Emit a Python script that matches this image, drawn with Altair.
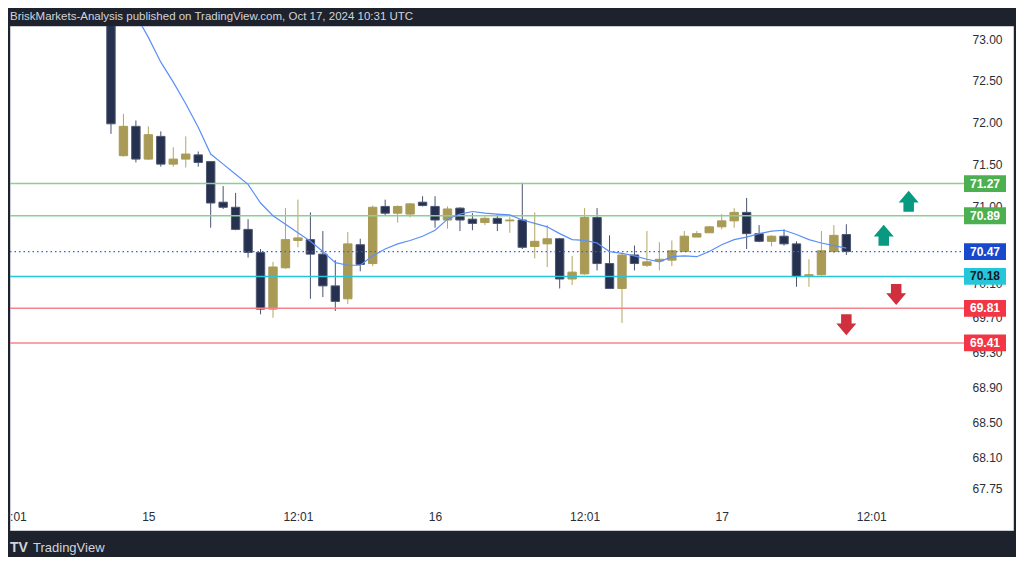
import altair as alt
import pandas as pd

# ---------------- data ----------------
opens = [73.50, 71.60, 71.95, 71.56, 71.83, 71.50, 71.56, 71.61, 71.53, 71.05,
         70.99, 70.73, 70.46, 69.80, 70.28, 70.60, 70.61, 70.44, 70.07, 69.92,
         70.55, 70.33, 71.00, 70.92, 70.91, 71.05, 71.00, 70.84, 70.98, 70.85,
         70.81, 70.86, 70.83, 70.84, 70.53, 70.56, 70.62, 70.15, 70.21, 70.87,
         70.33, 70.04, 70.43, 70.31, 70.36, 70.37, 70.47, 70.64, 70.69, 70.76,
         70.83, 70.93, 70.68, 70.59, 70.65, 70.56, 70.19, 70.20, 70.47, 70.67]
highs = [73.60, 72.10, 72.02, 71.95, 71.89, 71.70, 71.83, 71.65, 71.53, 71.24,
         71.16, 70.85, 70.50, 70.35, 70.98, 71.08, 70.93, 70.71, 70.37, 70.70,
         70.62, 71.01, 71.08, 71.01, 71.04, 71.12, 71.12, 71.00, 70.99, 70.92,
         70.88, 70.91, 70.88, 71.28, 70.93, 70.78, 70.63, 70.42, 70.98, 70.98,
         70.66, 70.45, 70.54, 70.71, 70.58, 70.60, 70.71, 70.71, 70.77, 70.91,
         70.98, 71.10, 70.78, 70.66, 70.73, 70.59, 70.38, 70.71, 70.78, 70.79]
lows = [71.86, 71.59, 71.52, 71.55, 71.47, 71.47, 71.46, 71.47, 70.75, 70.97,
        70.72, 70.40, 69.74, 69.70, 70.27, 70.52, 69.92, 69.94, 69.78, 69.86,
        70.24, 70.30, 70.89, 70.81, 70.87, 71.00, 70.75, 70.74, 70.71, 70.72,
        70.78, 70.71, 70.69, 70.50, 70.39, 70.29, 70.04, 70.08, 70.20, 70.25,
        70.04, 69.64, 70.25, 70.29, 70.25, 70.30, 70.47, 70.64, 70.69, 70.73,
        70.75, 70.50, 70.58, 70.53, 70.54, 70.06, 70.06, 70.19, 70.45, 70.43]
closes = [71.98, 71.95, 71.56, 71.85, 71.50, 71.56, 71.62, 71.52, 71.04, 70.99,
          70.73, 70.46, 69.80, 70.29, 70.61, 70.63, 70.44, 70.07, 69.89, 70.56,
          70.32, 70.99, 70.92, 71.00, 71.03, 71.01, 70.84, 70.97, 70.84, 70.80,
          70.86, 70.80, 70.84, 70.52, 70.59, 70.62, 70.15, 70.23, 70.87, 70.33,
          70.04, 70.43, 70.33, 70.35, 70.38, 70.48, 70.65, 70.68, 70.76, 70.83,
          70.93, 70.68, 70.59, 70.65, 70.56, 70.18, 70.20, 70.48, 70.66, 70.47]
ma_values = [73.85, 73.57, 73.29, 73.02, 72.72, 72.48, 72.22, 71.94, 71.62, 71.50,
             71.38, 71.26, 71.04, 70.89, 70.79, 70.69, 70.59, 70.47, 70.34, 70.31,
             70.31, 70.42, 70.50, 70.56, 70.60, 70.65, 70.72, 70.85, 70.91, 70.94,
             70.92, 70.91, 70.90, 70.84, 70.80, 70.76, 70.68, 70.61, 70.60, 70.57,
             70.47, 70.45, 70.42, 70.38, 70.35, 70.41, 70.42, 70.41, 70.47, 70.55,
             70.61, 70.64, 70.68, 70.71, 70.72, 70.67, 70.61, 70.57, 70.54, 70.51]

level_prices = [71.27, 70.89, 70.18, 69.81, 69.41]
level_labels = ["71.27", "70.89", "70.18", "69.81", "69.41"]
level_kinds = ["resistance", "resistance", "pivot", "support", "support"]

last_price = [70.47]
last_label = ["70.47"]

y_ticks = [73.00, 72.50, 72.00, 71.50, 71.00, 70.50, 70.10, 69.70, 69.30,
           68.90, 68.50, 68.10, 67.75]
x_tick_pos = [-8, 3, 15, 26, 38, 49, 61]
x_tick_labels = ["12:01", "15", "12:01", "16", "12:01", "17", "12:01"]

arrow_idx = [64, 62, 63, 59]
arrow_price = [71.06, 70.66, 69.97, 69.62]
arrow_dir = ["up", "up", "down", "down"]

title_text = "BriskMarkets-Analysis published on TradingView.com, Oct 17, 2024 10:31 UTC"

# ---------------- tables ----------------
candles = pd.DataFrame({"i": list(range(len(opens))), "open": opens, "high": highs,
                        "low": lows, "close": closes})
ma = pd.DataFrame({"i": list(range(len(ma_values))), "ma": ma_values})
levels = pd.DataFrame({"price": level_prices, "label": level_labels, "kind": level_kinds})
last = pd.DataFrame({"price": last_price, "label": last_label, "kind": ["last"]})
boxes = pd.concat([levels, last], ignore_index=True)
arrows = pd.DataFrame({"i": arrow_idx, "price": arrow_price, "dir": arrow_dir})

# ---------------- styling ----------------
FONT = "Liberation Sans"
W, H = 1003, 504
BULL, BEAR = "#a99b55", "#263150"
BULL_WICK, BEAR_WICK = "#b3a65f", "#4a5470"

kind_dom = ["resistance", "pivot", "support", "last"]
line_rng = ["#8ccf94", "#26c6da", "#f5848a", "#2962ff"]
box_rng = ["#4caf50", "#26c6da", "#f23645", "#1848cc"]
text_rng = ["#ffffff", "#131722", "#ffffff", "#ffffff"]

BOX_PATH = "M-1,-0.4 L1,-0.4 L1,0.4 L-1,0.4 Z"
UP_PATH = "M0,-1 L0.95,0.12 L0.5,0.12 L0.5,1 L-0.5,1 L-0.5,0.12 L-0.95,0.12 Z"
DOWN_PATH = "M0,1 L0.95,-0.12 L0.5,-0.12 L0.5,-1 L-0.5,-1 L-0.5,-0.12 L-0.95,-0.12 Z"

label_expr = "''"
for p, t in zip(reversed(x_tick_pos), reversed(x_tick_labels)):
    label_expr = f"datum.value == {p} ? '{t}' : ({label_expr})"

x_scale = alt.Scale(domain=[-7.7, 71.97], nice=False, zero=False)
y_scale = alt.Scale(type="log", domain=[67.288, 73.158], nice=False, zero=False)

x_axis = alt.Axis(values=x_tick_pos, labelExpr=label_expr, offset=-26, ticks=False,
                  domain=False, grid=False, labelPadding=7,
                  labelColor="#2a2e39", labelFontSize=12, labelFont=FONT,
                  labelOverlap=False, labelFlush=False, title=None)
y_axis = alt.Axis(orient="right", values=y_ticks, format=".2f", offset=-45, ticks=False,
                  domain=False, grid=False, labelPadding=4,
                  labelColor="#2a2e39", labelFontSize=12, labelFont=FONT,
                  labelOverlap=False, labelAlign="left", title=None)


def X(field):
    return alt.X(field, type="quantitative", scale=x_scale, axis=x_axis)


def Y(field):
    return alt.Y(field, type="quantitative", scale=y_scale, axis=y_axis)


is_bull = "datum.close >= datum.open"

base = alt.Chart(candles)

wicks = base.mark_rule(strokeWidth=1, clip=True).encode(
    x=X("i"), y=Y("low"), y2="high:Q",
    color=alt.condition(is_bull, alt.value(BULL_WICK), alt.value(BEAR_WICK)),
)

bodies = base.mark_bar(size=8.4, strokeWidth=1, clip=True).encode(
    x=X("i"), y=Y("open"), y2="close:Q",
    color=alt.condition(is_bull, alt.value(BULL), alt.value(BEAR)),
    stroke=alt.condition(is_bull, alt.value(BULL), alt.value("#4d5672")),
)

level_lines = alt.Chart(levels).mark_rule(strokeWidth=1.5, clip=True).encode(
    y=Y("price"),
    x=alt.value(0), x2=alt.value(954),
    color=alt.Color("kind:N", scale=alt.Scale(domain=kind_dom, range=line_rng), legend=None),
)

last_line = alt.Chart(last).mark_rule(strokeWidth=1.3, strokeDash=[1.5, 3], clip=True,
                                      color="#2962ff").encode(
    y=Y("price"),
    x=alt.value(0), x2=alt.value(954),
)

ma_line = alt.Chart(ma).mark_line(strokeWidth=1.2, color="#5b8ff9", clip=True).encode(
    x=X("i"), y=Y("ma"),
)

box_marks = alt.Chart(boxes).mark_point(shape=BOX_PATH, filled=True, size=1764,
                                        opacity=1, strokeWidth=0).encode(
    y=Y("price"),
    x=alt.value(975),
    color=alt.Color("kind:N", scale=alt.Scale(domain=kind_dom, range=box_rng), legend=None),
)

box_text = alt.Chart(boxes).mark_text(font=FONT, fontSize=12, fontWeight="bold",
                                      align="center", baseline="middle").encode(
    y=Y("price"),
    x=alt.value(975),
    text="label:N",
    color=alt.Color("kind:N", scale=alt.Scale(domain=kind_dom, range=text_rng), legend=None),
)

up_arrows = alt.Chart(arrows).transform_filter("datum.dir == 'up'").mark_point(
    shape=UP_PATH, filled=True, size=441, opacity=1, color="#089981", strokeWidth=0
).encode(x=X("i"), y=Y("price"))

down_arrows = alt.Chart(arrows).transform_filter("datum.dir == 'down'").mark_point(
    shape=DOWN_PATH, filled=True, size=441, opacity=1, color="#d0303e", strokeWidth=0
).encode(x=X("i"), y=Y("price"))

footer = pd.DataFrame({"logo": ["TV"], "name": ["TradingView"]})
logo = alt.Chart(footer).mark_text(font=FONT, fontSize=14, fontWeight="bold", align="left",
                                   baseline="middle", color="#d1d4dc").encode(
    x=alt.value(0), y=alt.value(H + 18), text="logo:N")
brand = alt.Chart(footer).mark_text(font=FONT, fontSize=13, align="left",
                                    baseline="middle", color="#d1d4dc").encode(
    x=alt.value(23), y=alt.value(H + 18), text="name:N")

chart = alt.layer(
    wicks, bodies, level_lines, last_line, ma_line, box_marks, box_text,
    up_arrows, down_arrows, logo, brand
).resolve_scale(color="independent").properties(
    width=W, height=H,
    autosize=alt.AutoSizeParams(type="none"),
    padding={"left": 2, "top": 18, "right": 3, "bottom": 27},
    background="#1e222d",
    title=alt.TitleParams(text=title_text, anchor="start", frame="group", color="#d1d4dc",
                          fontSize=11.5, font=FONT, fontWeight="normal", offset=8,
                          baseline="alphabetic", dy=13),
).configure_view(fill="white", stroke="#c9ccd3", strokeWidth=1)

chart.save("out.html", embed_options={"renderer": "svg", "actions": False})
